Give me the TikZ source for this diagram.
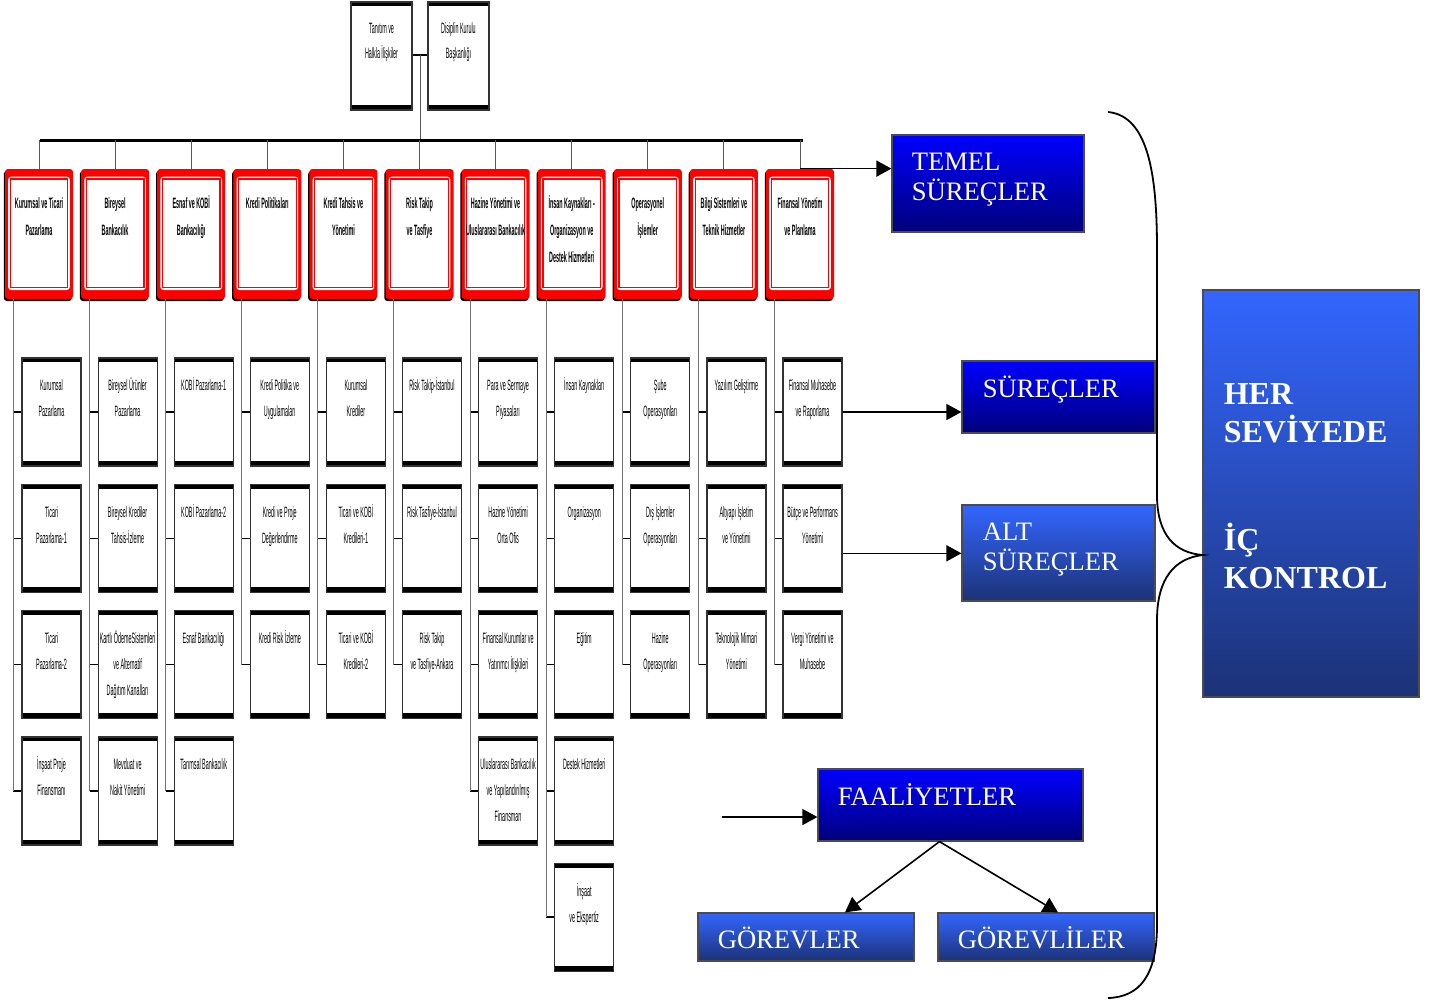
\documentclass[tikz,border=0pt]{standalone}
\usepackage{fontspec}
\setmainfont{Liberation Serif}
\newfontfamily\narrowfont[FakeStretch=0.36]{Liberation Sans}
\usetikzlibrary{arrows.meta, positioning, shadows}
\definecolor{topblue}{RGB}{0,0,255}
\definecolor{navyblue}{RGB}{0,0,122}
\definecolor{lightblue}{RGB}{51,102,255}
\definecolor{duskblue}{RGB}{28,50,118}

\begin{document}
\begin{tikzpicture}[x=0.5pt, y=-0.5pt,
    subbox/.style={draw=black!80, line width=0.6pt, fill=white,
      minimum width=29.5pt, minimum height=54pt, inner sep=0pt,
      path picture={
        \fill[black] (path picture bounding box.north west)
          rectangle ([yshift=-2.2pt]path picture bounding box.north east);
        \fill[black] ([yshift=2.6pt]path picture bounding box.south west)
          rectangle (path picture bounding box.south east);}},
    unitbox/.style={fill=red, rounded corners=1.5pt,
      minimum width=34pt, minimum height=65pt, inner sep=0pt,
      drop shadow={shadow xshift=-0.6pt, shadow yshift=-1pt, fill=black, opacity=1},
      path picture={
        \fill[white] ([xshift=1.6pt, yshift=-3.8pt]path picture bounding box.north west)
          rectangle ([xshift=-1.6pt, yshift=4.5pt]path picture bounding box.south east);
        \draw[red, line width=0.6pt, sharp corners]
          ([xshift=2.6pt, yshift=-5pt]path picture bounding box.north west)
          rectangle ([xshift=-2.6pt, yshift=5.6pt]path picture bounding box.south east);}},
    subtext/.style={anchor=north, align=center, inner sep=0pt,
      font=\narrowfont\fontsize{7.5}{13}\selectfont},
    unittext/.style={anchor=north, align=center, inner sep=0pt,
      font=\narrowfont\bfseries\fontsize{7.5}{13.5}\selectfont},
    darkbox/.style={draw=black!70, line width=0.6pt, top color=topblue,
      bottom color=navyblue, inner sep=0pt},
    lightbox/.style={draw=black!70, line width=0.6pt, top color=lightblue,
      bottom color=duskblue, inner sep=0pt},
    bluetext/.style={anchor=north west, align=left, inner sep=0pt, text=white,
      font=\fontsize{13.3}{15}\selectfont},
    bigtext/.style={anchor=north west, align=left, inner sep=0pt, text=white,
      font=\bfseries\fontsize{16}{19}\selectfont},
    drop/.style={draw=black!65, line width=0.5pt},
    spine/.style={draw=black!55, line width=0.5pt},
    stub/.style={draw=black, line width=0.8pt},
    arr/.style={-{Triangle[length=7.5pt, width=8pt]}, line width=0.8pt}]
  \useasboundingbox (0,0) rectangle (1441,1003);

  % top units
  \node[subbox, minimum width=30.5pt] (tanitim) at (381.5,56) {};
  \node[subtext, yshift=-7pt, font=\narrowfont\fontsize{7.5}{12.5}\selectfont]
    (tanitim-t) at (tanitim.north) {\strut Tanıtım ve\\Halkla İlişkiler};
  \node[subbox, minimum width=30.5pt] (disiplin) at (458.5,56) {};
  \node[subtext, yshift=-7pt, font=\narrowfont\fontsize{7.5}{12.5}\selectfont]
    (disiplin-t) at (disiplin.north) {\strut Disiplin Kurulu\\Başkanlığı};
  \coordinate (hub) at (420,55);
  \coordinate (busL) at (40,140);
  \coordinate (busR) at (803,140);
  \draw[line width=1pt] (tanitim.east |- hub) -- (disiplin.west |- hub);
  \draw[drop] (hub) -- (hub |- busL);
  \draw[line width=1.5pt] (busL) -- (busR);

  % main units
  \foreach \lbl [count=\unit from 0] in {{Kurumsal ve Ticari\\Pazarlama},
      {Bireysel\\Bankacılık}, {Esnaf ve KOBİ\\Bankacılığı}, {Kredi Politikaları},
      {Kredi Tahsis ve\\Yönetimi}, {Risk Takip\\ve Tasfiye},
      {Hazine Yönetimi ve\\Uluslararası Bankacılık},
      {İnsan Kaynakları -\\Organizasyon ve\\Destek Hizmetleri},
      {Operasyonel\\İşlemler}, {Bilgi Sistemleri ve\\Teknik Hizmetler},
      {Finansal Yönetim\\ve Planlama}} {
    \node[unitbox] (u\unit) at ({39+76.1*\unit},234) {};
    \node[unittext, yshift=-10.3pt] (u\unit-t) at (u\unit.north) {\strut\lbl};
    \draw[drop] (u\unit.north |- busL) -- (u\unit.north);
  }

  % sub units
  \foreach \col/\row/\lbl in {0/1/{Kurumsal\\Pazarlama}, 0/2/{Ticari\\Pazarlama-1},
      0/3/{Ticari\\Pazarlama-2}, 0/4/{İnşaat Proje\\Finansmanı},
      1/1/{Bireysel Ürünler\\Pazarlama}, 1/2/{Bireysel Krediler\\Tahsis-İzleme},
      1/3/{Kartlı ÖdemeSistemleri\\ve Alternatif\\Dağıtım Kanalları},
      1/4/{Mevduat ve\\Nakit Yönetimi},
      2/1/{KOBİ Pazarlama-1}, 2/2/{KOBİ Pazarlama-2}, 2/3/{Esnaf Bankacılığı},
      2/4/{Tarımsal Bankacılık},
      3/1/{Kredi Politika ve\\Uygulamaları}, 3/2/{Kredi ve Proje\\Değerlendirme},
      3/3/{Kredi Risk İzleme},
      4/1/{Kurumsal\\Krediler}, 4/2/{Ticari ve KOBİ\\Kredileri-1},
      4/3/{Ticari ve KOBİ\\Kredileri-2},
      5/1/{Risk Takip-İstanbul}, 5/2/{Risk Tasfiye-İstanbul},
      5/3/{Risk Takip\\ve Tasfiye-Ankara},
      6/1/{Para ve Sermaye\\Piyasaları}, 6/2/{Hazine Yönetimi\\Orta Ofis},
      6/3/{Finansal Kurumlar ve\\Yatırımcı İlişkileri},
      6/4/{Uluslararası Bankacılık\\ve Yapılandırılmış\\Finansman},
      7/1/{İnsan Kaynakları}, 7/2/{Organizasyon}, 7/3/{Eğitim},
      7/4/{Destek Hizmetleri}, 7/5/{İnşaat\\ve Ekspertiz},
      8/1/{Şube\\Operasyonları}, 8/2/{Dış İşlemler\\Operasyonları},
      8/3/{Hazine\\Operasyonları},
      9/1/{Yazılım Geliştirme}, 9/2/{Altyapı İşletim\\ve Yönetimi},
      9/3/{Teknolojik Mimari\\Yönetimi},
      10/1/{Finansal Muhasebe\\ve Raporlama}, 10/2/{Bütçe ve Performans\\Yönetimi},
      10/3/{Vergi Yönetimi ve\\Muhasebe}} {
    \node[subbox] (s\col-\row) at ({51.5+76.1*\col},{412+126.3*(\row-1)}) {};
    \node[subtext, yshift=-7.4pt] (s\col-\row-t) at (s\col-\row.north) {\strut\lbl};
    \coordinate (j\col-\row) at ([xshift=-4pt]s\col-\row.west);
    \draw[stub] (j\col-\row) -- (s\col-\row.west);
  }
  \foreach \col/\last in {0/4,1/4,2/4,3/3,4/3,5/3,6/4,7/5,8/3,9/3,10/3}
    \draw[spine] (u\col.south -| j\col-1) -- (j\col-\last);

  % process levels
  \node[darkbox, minimum width=96pt, minimum height=48.5pt] (temel) at (988,183.5) {};
  \node[bluetext, xshift=10pt, yshift=-7.5pt] (temel-t) at (temel.north west) {\rule{0pt}{10.5pt}TEMEL\\SÜREÇLER};
  \node[darkbox, minimum width=96.5pt, minimum height=36pt] (surec) at (1058.5,397) {};
  \node[bluetext, xshift=10.5pt, yshift=-7.5pt] (surec-t) at (surec.north west) {\rule{0pt}{10.5pt}SÜREÇLER};
  \node[lightbox, minimum width=96.5pt, minimum height=48pt] (alt) at (1058.5,553) {};
  \node[bluetext, xshift=10.5pt, yshift=-7.5pt] (alt-t) at (alt.north west) {\rule{0pt}{10.5pt}ALT\\SÜREÇLER};
  \node[darkbox, minimum width=132.5pt, minimum height=36pt] (faal) at (950.5,805) {};
  \node[bluetext, xshift=10pt, yshift=-7.5pt] (faal-t) at (faal.north west) {\rule{0pt}{10.5pt}FAALİYETLER};
  \node[lightbox, minimum width=108pt, minimum height=24pt] (gorevler) at (806,937) {};
  \node[bluetext, xshift=10pt, yshift=-7pt] (gorevler-t) at (gorevler.north west) {\rule{0pt}{10.5pt}GÖREVLER};
  \node[lightbox, minimum width=108pt, minimum height=24pt] (gorevliler) at (1046,937) {};
  \node[bluetext, xshift=10pt, yshift=-7pt] (gorevliler-t) at (gorevliler.north west) {\rule{0pt}{10.5pt}GÖREVLİLER};
  \node[lightbox, minimum width=108pt, minimum height=203.5pt] (kontrol) at (1311,493.5) {};
  \node[bigtext, xshift=10.5pt, yshift=-44pt] (kontrol-t1) at (kontrol.north west) {\rule{0pt}{13.3pt}HER\\SEVİYEDE};
  \node[bigtext, xshift=10.5pt, yshift=-116.5pt] (kontrol-t2) at (kontrol.north west) {\rule{0pt}{13.3pt}İÇ\\KONTROL};

  % arrows
  \coordinate (faal-in) at (722,817);
  \draw[arr] (u10.north) -- (u10.north -| temel.west);
  \draw[arr] (s10-1.east) -- (s10-1.east -| surec.west);
  \draw[arr] ([yshift=-7.5pt]s10-2.east) -- ([yshift=-7.5pt]s10-2.east -| alt.west);
  \draw[arr] (faal-in) -- (faal-in -| faal.west);
  \draw[arr] ([xshift=-5.5pt]faal.south) -- ([xshift=19.5pt]gorevler.north);
  \draw[arr] ([xshift=-5.5pt]faal.south) -- ([xshift=6pt]gorevliler.north);

  % brace
  \draw[line width=0.9pt] (1108,112) .. controls (1150,116) and (1157,180) .. (1157,250)
    -- (1157,495) .. controls (1157,535) and (1175,553) .. (1203,555)
    .. controls (1175,558) and (1157,578) .. (1157,620)
    -- (1157,925) .. controls (1157,975) and (1140,997) .. (1108,998);
\end{tikzpicture}
\end{document}
